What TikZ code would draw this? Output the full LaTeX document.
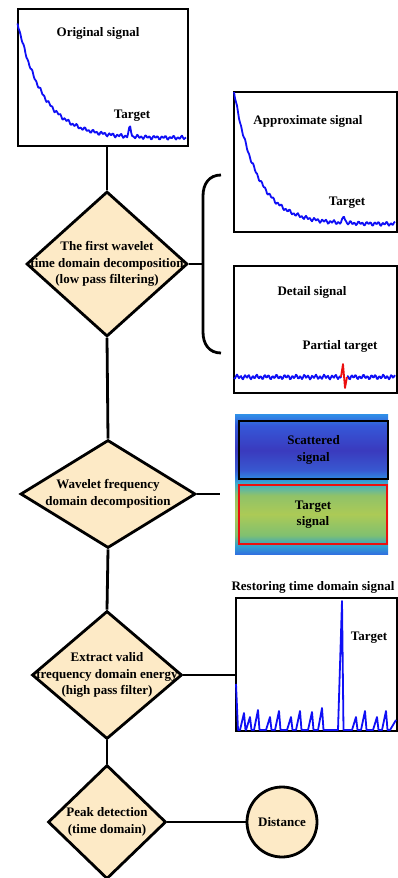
\documentclass[tikz,border=0pt]{standalone}
\usepackage{fontspec}
\setmainfont{Liberation Serif}
\usepackage{tikz}
\usetikzlibrary{shapes.geometric}
\definecolor{stepfill}{RGB}{253, 234, 198}
\definecolor{sigblue}{RGB}{15, 15, 245}
\definecolor{sigred}{RGB}{235, 15, 15}
% spectrogram colours
\definecolor{specA}{RGB}{48, 112, 224}
\definecolor{specB}{RGB}{48, 160, 208}
\definecolor{specC}{RGB}{128, 192, 112}
\definecolor{specD}{RGB}{172, 202, 86}
\definecolor{specE}{RGB}{144, 194, 104}
\definecolor{specF}{RGB}{64, 176, 200}
\definecolor{specG}{RGB}{48, 136, 224}
\definecolor{specH}{RGB}{56, 88, 208}
\definecolor{specI}{RGB}{58, 58, 190}
\definecolor{specJ}{RGB}{53, 88, 216}
\definecolor{specK}{RGB}{48, 144, 232}
% bottom to top
\pgfdeclareverticalshading{specmap}{100bp}{%
  color(0bp)=(specA); color(25bp)=(specA); color(27.9bp)=(specB);
  color(31.8bp)=(specC); color(39.3bp)=(specD); color(46bp)=(specE);
  color(50bp)=(specF); color(52.1bp)=(specG); color(55bp)=(specH);
  color(62.1bp)=(specI); color(71bp)=(specJ); color(75bp)=(specK);
  color(100bp)=(specK)}
\tikzset{
  decision/.style={diamond, draw, line width=2.8pt, fill=stepfill, inner sep=0pt},
  panel/.style={draw, line width=2pt, anchor=north west, inner sep=0pt},
  lbl/.style={font=\fontsize{13}{16.5}\selectfont\bfseries, align=center, inner sep=0pt},
  band/.style={panel, lbl},
  endpoint/.style={circle, draw, line width=2.8pt, fill=stepfill, minimum size=70pt, inner sep=0pt, lbl},
  link/.style={line width=2.8pt},
  sig/.style={sigblue, line width=1.8pt, line join=round},
}

\begin{document}
\begin{tikzpicture}[x=1pt, y=-1pt]
\useasboundingbox (0,0) rectangle (397,878);

% Original signal
\node[panel, minimum width=170pt, minimum height=137pt] (orig) at (17,8) {};
\draw[sig] plot[domain=17.5:186, samples=170, variable=\t]
  ({\t}, {138-118*exp(-(\t-17)/26)+1.3*sin((\t-17)*89)+0.9*sin((\t-17)*41)-10*max(0,1-abs(\t-130)/2.5)});
\node[lbl] (origtxt) at (98,33) {Original signal};
\node[lbl] (origtgt) at (132,116) {Target};

% First decomposition
\node[decision, minimum width=161pt, minimum height=145pt,
  label={[lbl]center:The first wavelet\\time domain decomposition\\(low pass filtering)}] (d1) at (107,264) {};
\draw[link] (d1.north |- orig.south) -- (d1.north);

% Brace
\draw[link] (221,175) .. controls (209,175) and (203,184) .. (203,196) -- (203,332)
  .. controls (203,344) and (209,353) .. (221,353);
\coordinate (brc) at (203,264);
\draw[link] (d1.east) -- (brc);

% Approximate signal
\node[panel, minimum width=163pt, minimum height=140pt] (approx) at (233,91) {};
\draw[sig] plot[domain=234:395, samples=162, variable=\t]
  ({\t}, {224-132*exp(-(\t-234)/23.5)+1.3*sin((\t-230)*89)+0.9*sin((\t-230)*41)-7*max(0,1-abs(\t-344)/2.5)});
\node[lbl] (apptxt) at (308,121) {Approximate signal};
\node[lbl] (apptgt) at (347,203) {Target};

% Detail signal
\node[panel, minimum width=163pt, minimum height=127pt] (detail) at (233,265) {};
\draw[sig] plot[domain=234:341, samples=108, variable=\t] ({\t}, {377+1.6*sin((\t-230)*91)+0.9*sin((\t-230)*37)});
\draw[sig] plot[domain=347:395, samples=49, variable=\t] ({\t}, {377+1.6*sin((\t-230)*91)+0.9*sin((\t-230)*37)});
\draw[sigred, line width=1.8pt, line join=round] (341,377) -- (343,364) -- (345,388) -- (347,377);
\node[lbl] (dettxt) at (312,292) {Detail signal};
\node[lbl] (dettgt) at (340,346) {Partial target};

% Frequency decomposition
\node[decision, minimum width=175pt, minimum height=108pt,
  label={[lbl]center:Wavelet frequency\\domain decomposition}] (d2) at (108,494) {};
\draw[link] (d1.south) -- (d2.north);
\coordinate (specin) at (220,494);
\draw[link] (d2.east) -- (specin);

% Spectrogram
\node[anchor=north west, minimum width=153pt, minimum height=140pt, inner sep=0pt, shading=specmap] (spec) at (235,414) {};
\node[band, minimum width=149pt, minimum height=58pt] (scat) at (238,420) {Scattered\\signal};
\node[band, draw=sigred, minimum width=148pt, minimum height=59pt] (tsig) at (238,484) {Target\\signal};

% Extract energy
\node[decision, minimum width=150pt, minimum height=128pt,
  label={[lbl]center:Extract valid\\frequency domain energy\\(high pass filter)}] (d3) at (107,675) {};
\draw[link] (d2.south) -- (d3.north);

% Restored signal
\node[panel, minimum width=161pt, minimum height=133pt] (rest) at (235,597) {};
\draw[link] (d3.east) -- (d3.east -| rest.west);
\draw[sig] (236,684) -- (238,730)
  \foreach \x/\y in {244/713, 250/717, 258/710, 270/717, 279/711, 291/717, 300/711, 312/712,
    322/708, 342/601, 356/717, 365/711, 377/717, 386/711} {-- (\x-4,730) -- (\x,\y) -- (\x+1.5,730)}
  -- (390,730) -- (396,720);
\node[lbl] (resttxt) at (313,587) {Restoring time domain signal};
\node[lbl] (resttgt) at (369,638) {Target};

% Peak detection
\node[decision, minimum width=118pt, minimum height=114pt,
  label={[lbl]center:Peak detection\\(time domain)}] (d4) at (107,822) {};
\draw[link] (d3.south) -- (d4.north);
\node[endpoint] (dist) at (282,822) {Distance};
\draw[link] (d4.east) -- (dist.west);
\end{tikzpicture}
\end{document}
